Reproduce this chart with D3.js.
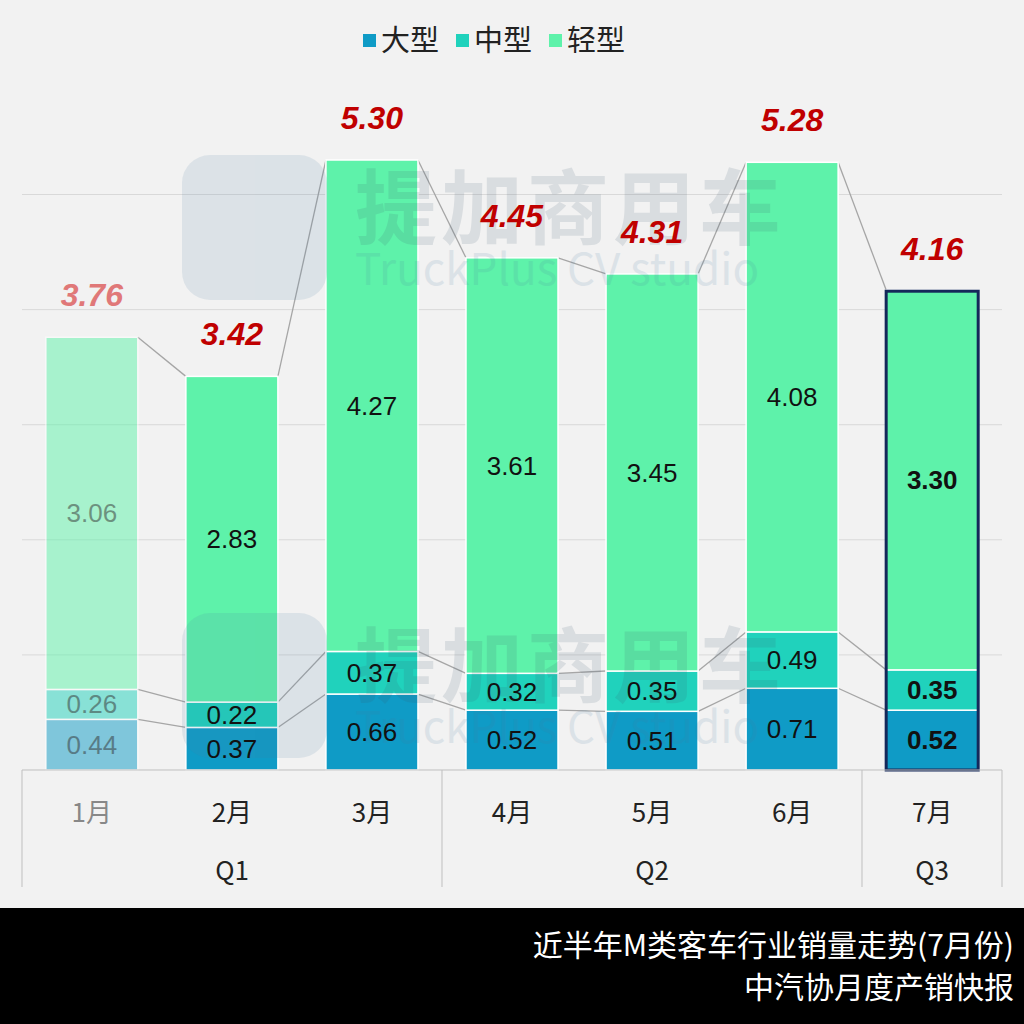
<!DOCTYPE html><html><head><meta charset="utf-8"><script src="https://cdn.jsdelivr.net/npm/d3@7"></script>
<style>body{margin:0;background:#f2f2f2}svg{display:block;font-family:"Noto Sans CJK SC","Noto Sans",sans-serif}</style></head><body>
<script>
const months=["1月","2月","3月","4月","5月","6月","7月"];
const quarters=["Q1","Q2","Q3"];
const quarterSpans=[3,3,1];
const large=[0.44,0.37,0.66,0.52,0.51,0.71,0.52];
const medium=[0.26,0.22,0.37,0.32,0.35,0.49,0.35];
const light=[3.06,2.83,4.27,3.61,3.45,4.08,3.30];
const totals=[3.76,3.42,5.30,4.45,4.31,5.28,4.16];
const seriesNames=["大型","中型","轻型"];
const colors=["#0f9bc6","#20d2bc","#5ef2aa"];
const W=1024,H=1024;
const svg=d3.select("body").append("svg").attr("width",W).attr("height",H);
svg.append("rect").attr("width",W).attr("height",H).attr("fill","#f2f2f2");
const x=d3.scaleBand().domain(months).range([22,1002]).paddingInner(0.343).paddingOuter(0.17);
const y=d3.scaleLinear().domain([0,5.3]).range([770,160]);
[1,2,3,4,5].forEach(v=>svg.append("line").attr("x1",22).attr("x2",1002).attr("y1",y(v)).attr("y2",y(v)).attr("stroke","#d9d9d9"));
const stacks=months.map((m,i)=>{const a=large[i],b=a+medium[i],c=b+light[i];return {m,i,segs:[[0,a,large[i]],[a,b,medium[i]],[b,c,light[i]]]};});
for(let i=0;i<6;i++){
 for(let k=0;k<3;k++){
  svg.append("line").attr("x1",x(months[i])+x.bandwidth()).attr("y1",y(stacks[i].segs[k][1]))
   .attr("x2",x(months[i+1])).attr("y2",y(stacks[i+1].segs[k][1])).attr("stroke","#a6a6a6").attr("stroke-width",1.3);
 }
}
stacks.forEach(s=>{
 const g=svg.append("g").attr("opacity",s.i===0?0.5:1);
 s.segs.forEach((sg,k)=>{
  g.append("rect").attr("x",x(s.m)).attr("width",x.bandwidth()).attr("y",y(sg[1])).attr("height",y(sg[0])-y(sg[1]))
   .attr("fill",colors[k]).attr("stroke","#fff").attr("stroke-width",1.5);
 });
 if(s.i===6) svg.append("rect").attr("x",x(s.m)).attr("width",x.bandwidth()).attr("y",y(totals[6])).attr("height",770-y(totals[6]))
   .attr("fill","none").attr("stroke","#14285a").attr("stroke-width",3);
});
// watermark (translucent, over bars)
[200,658].forEach(wy=>{
 const wg=svg.append("g").attr("opacity",0.13);
 wg.append("rect").attr("x",182).attr("y",wy-45).attr("width",145).attr("height",145).attr("rx",28).attr("fill","#4a7aa0");
 wg.append("text").attr("x",355).attr("y",wy+38).attr("font-size",82).attr("font-weight","bold").attr("fill","#3b556b").attr("letter-spacing",4).text("提加商用车");
 wg.append("text").attr("x",355).attr("y",wy+85).attr("font-size",44).attr("fill","#4a7aa0").text("TruckPlus CV studio");
});
stacks.forEach(s=>{
 const g=svg.append("g").attr("opacity",s.i===0?0.5:1);
 s.segs.forEach((sg,k)=>{
  g.append("text").attr("x",x(s.m)+x.bandwidth()/2).attr("y",(y(sg[0])+y(sg[1]))/2).attr("dy","0.35em")
   .attr("text-anchor","middle").attr("font-size",26).attr("font-family","Liberation Sans, Arial")
   .attr("font-weight",s.i===6?"bold":"normal").attr("fill",s.i===0?"#333":"#111").text(sg[2].toFixed(2));
 });
 svg.append("text").attr("x",x(s.m)+x.bandwidth()/2).attr("y",y(totals[s.i])-31).attr("text-anchor","middle")
  .attr("font-size",32).attr("font-weight","bold").attr("font-style","italic").attr("font-family","Liberation Sans, Arial")
  .attr("fill",s.i===0?"#e07878":"#c00000").text(totals[s.i].toFixed(2));
});
svg.append("line").attr("x1",22).attr("x2",1002).attr("y1",770).attr("y2",770).attr("stroke","#bfbfbf");
let cx=22;const step=140;
[22,442,862,1002].forEach(v=>svg.append("line").attr("x1",v).attr("x2",v).attr("y1",770).attr("y2",887).attr("stroke","#bfbfbf"));
months.forEach((m,i)=>svg.append("text").attr("x",x(m)+x.bandwidth()/2).attr("y",822).attr("text-anchor","middle")
 .attr("font-size",26).attr("fill",i===0?"#888":"#222").text(m));
quarters.forEach((q,j)=>{const w=quarterSpans[j]*step;svg.append("text").attr("x",cx+w/2).attr("y",880).attr("text-anchor","middle").attr("font-size",26).attr("fill","#222").text(q);cx+=w;});
const lg=svg.append("g");let lx=363;
seriesNames.forEach((n,k)=>{lg.append("rect").attr("x",lx).attr("y",34).attr("width",13).attr("height",13).attr("fill",colors[k]);
 lg.append("text").attr("x",lx+18).attr("y",51).attr("font-size",29).attr("fill","#222").text(n);lx+=93;});
svg.append("rect").attr("x",0).attr("y",908).attr("width",W).attr("height",116).attr("fill","#000");
svg.append("text").attr("x",1014).attr("y",956).attr("text-anchor","end").attr("font-size",30).attr("fill","#fff").text("近半年M类客车行业销量走势(7月份)");
svg.append("text").attr("x",1014).attr("y",998).attr("text-anchor","end").attr("font-size",30).attr("fill","#fff").text("中汽协月度产销快报");
</script></body></html>
